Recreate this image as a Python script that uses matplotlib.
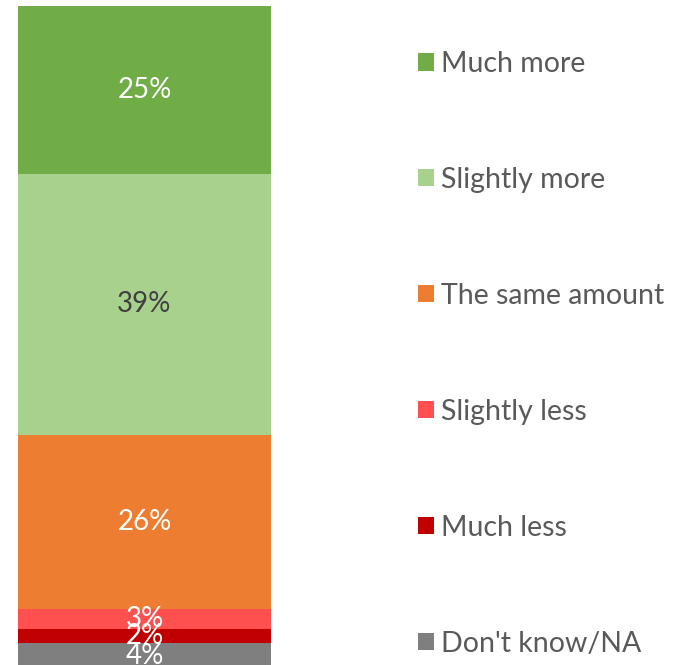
import matplotlib
matplotlib.use("Agg")
import matplotlib.pyplot as plt
from matplotlib.patches import Patch

# bottom to top of the stacked bar
categories = ["Don't know/NA", "Much less", "Slightly less", "The same amount", "Slightly more", "Much more"]
values = [4, 2, 3, 26, 39, 25]
colors = ["#7F7F7F", "#C00000", "#FF5050", "#ED7D31", "#A9D18E", "#70AD47"]
label_colors = ["white", "white", "white", "white", "#404040", "white"]

plt.rcParams['font.family'] = ['Lato', 'DejaVu Sans']

W, H = 686, 665
fig = plt.figure(figsize=(W / 100, H / 100), dpi=100)
total = sum(values)
px_per = 6.7
bar_h = total * px_per
ax = fig.add_axes([18 / W, (H - 6 - bar_h) / H, 253 / W, bar_h / H])

bottom = 0
for v, c, lc in zip(values, colors, label_colors):
    ax.bar(0, v, bottom=bottom, width=1, color=c, linewidth=0)
    ax.text(0, bottom + v / 2, f"{v}%", ha="center", va="center", fontsize=20, color=lc)
    bottom += v

ax.set_xlim(-0.5, 0.5)
ax.set_ylim(0, total)
ax.axis("off")

handles = [Patch(facecolor=c, edgecolor="none") for c in colors][::-1]
fig.legend(handles, categories[::-1], loc="upper left", bbox_to_anchor=(418 / W, 1 - 51 / H),
           frameon=False, fontsize=20.5, labelcolor="#595959", handlelength=0.55, handleheight=0.55,
           handletextpad=0.25, labelspacing=3.16, borderaxespad=0, borderpad=0)

fig.savefig("out.png", dpi=100)
